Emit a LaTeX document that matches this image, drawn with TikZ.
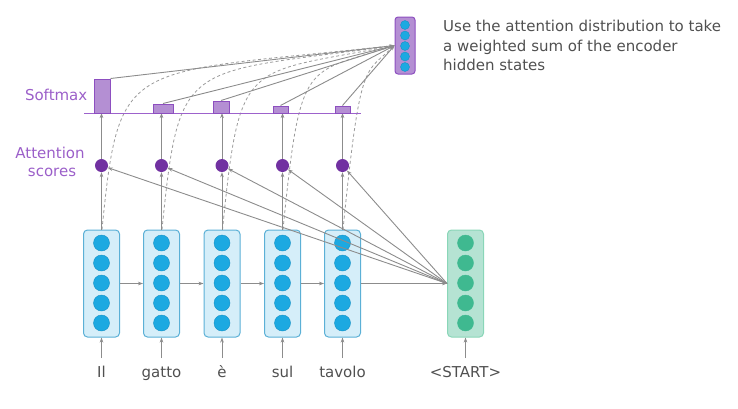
\documentclass[tikz,border=0pt]{standalone}
\usepackage{fontspec}
\setmainfont{DejaVu Sans}
\usetikzlibrary{arrows.meta}
\definecolor{encfill}{HTML}{D5EEF9}
\definecolor{encdraw}{HTML}{5BB0D6}
\definecolor{encdot}{HTML}{1CA9E1}
\definecolor{encdotdraw}{HTML}{1792C6}
\definecolor{decfill}{HTML}{B5E3D3}
\definecolor{decdraw}{HTML}{8AD6B8}
\definecolor{decdot}{HTML}{3FB990}
\definecolor{scoredot}{HTML}{7131A1}
\definecolor{barfill}{HTML}{B48FD3}
\definecolor{bardraw}{HTML}{8D4FC0}
\definecolor{softline}{HTML}{9D62CC}
\definecolor{lblpurple}{HTML}{9B5FC9}
\definecolor{arrgray}{HTML}{8C8C8C}
\definecolor{dashgray}{HTML}{9A9A9A}
\definecolor{txtgray}{HTML}{505050}
\begin{document}
\begin{tikzpicture}[x=1pt,y=-1pt,
  font=\fontsize{15}{19}\selectfont,
  garr/.style={draw=arrgray, line width=0.9pt, -{Stealth[length=5pt,width=3.6pt]}},
  dcurve/.style={draw=dashgray, line width=0.8pt, dash pattern=on 3pt off 2.5pt},
  encbox/.style={draw=encdraw, fill=encfill, line width=1pt, rounded corners=4pt, minimum width=36pt, minimum height=107pt, inner sep=0pt},
  decbox/.style={encbox, draw=decdraw, fill=decfill},
  edot/.style={circle, fill=encdot, draw=encdotdraw, line width=0.4pt, minimum size=16pt, inner sep=0pt},
  ddot/.style={edot, fill=decdot, draw=decdot},
  cdot/.style={edot, minimum size=9pt},
  sdot/.style={circle, fill=scoredot, minimum size=13pt, inner sep=0pt},
  bar/.style={draw=bardraw, fill=barfill, line width=1pt, inner sep=0pt, anchor=south},
  ctxbox/.style={draw=bardraw, fill=barfill, line width=1pt, rounded corners=3pt, minimum width=20pt, minimum height=57pt, inner sep=0pt},
  word/.style={text=txtgray, anchor=base, inner sep=0pt},
  plabel/.style={text=lblpurple, inner sep=0pt},
  note/.style={text=txtgray, anchor=base west, inner sep=0pt}
]
\useasboundingbox (0,0) rectangle (738,408);

% encoder
\foreach \i/\x in {1/101.5,2/161.5,3/222,4/282.5,5/342.5} {
  \node[encbox] (e\i) at (\x,283.5) {};
  \foreach \j/\y in {1/243,2/263,3/283,4/303,5/323}
    \node[edot] (e\i d\j) at (\x,\y) {};
  \node[sdot] (s\i) at (\x,165.5) {};
  \coordinate (t\i) at (\x,113);
  \coordinate (a\i) at (\x,358);
}
% decoder
\node[decbox] (dec) at (465.5,283.5) {};
\foreach \j/\y in {1/243,2/263,3/283,4/303,5/323}
  \node[ddot] (dd\j) at (465.5,\y) {};
\coordinate (a6) at (465.5,358);

% words
\node[word] (w1) at (101.5,377) {Il};
\node[word] (w2) at (161.5,377) {gatto};
\node[word] (w3) at (222,377) {è};
\node[word] (w4) at (282.5,377) {sul};
\node[word] (w5) at (342.5,377) {tavolo};
\node[word] (w6) at (465.5,377) {<START>};
\foreach \i in {1,...,5} \draw[garr] (a\i) -- (e\i);
\draw[garr] (a6) -- (dec);

% recurrent arrows
\draw[garr] (e1.east) -- (e2.west);
\draw[garr] (e2.east) -- (e3.west);
\draw[garr] (e3.east) -- (e4.west);
\draw[garr] (e4.east) -- (e5.west);
\draw[garr] (e5.east) -- (dec.west);

% context vector
\node[ctxbox] (ctx) at (405,45.5) {};
\foreach \j/\y in {1/25,2/35.5,3/46,4/56.5,5/67}
  \node[cdot] (cd\j) at (405,\y) {};

% dashed curves from encoder states to context
\foreach \i/\x in {1/101.5,2/161.5,3/222,4/282.5,5/342.5}
  \draw[dcurve] ([xshift=0.5pt]e\i.north) .. controls (\x+18,55) and (\x+22,75) .. (ctx.west);

% scores
\foreach \i in {1,...,5} {
  \draw[garr] (e\i.north) -- (s\i.south);
  \draw[garr] (s\i.north) -- (t\i);
}
\foreach \i in {1,...,5}
  \draw[garr] (dec.west) -- (s\i);

% softmax line and bars
\coordinate (sl) at (84,113);
\coordinate (sr) at (361,113);
\draw[softline, line width=1pt] (sl) -- (sr);
\node[bar, minimum width=16pt, minimum height=34pt] (b1) at (102,113.5) {};
\node[bar, minimum width=20pt, minimum height=9pt] (b2) at (163,113.5) {};
\node[bar, minimum width=16pt, minimum height=12pt] (b3) at (221,113.5) {};
\node[bar, minimum width=15pt, minimum height=7pt] (b4) at (280.5,113.5) {};
\node[bar, minimum width=15pt, minimum height=7pt] (b5) at (342.5,113.5) {};

\draw[garr] (b1.north east) -- (ctx.west);
\foreach \i in {2,...,5}
  \draw[garr] (b\i.north) -- (ctx.west);

% labels
\node[plabel, anchor=base east] (lsoft) at (87.5,100) {Softmax};
\node[plabel, anchor=base] (latt) at (50,158.3) {Attention};
\node[plabel, anchor=base] (lsco) at (52,176.5) {scores};

\node[note] (n1) at (443,31.7) {Use the attention distribution to take};
\node[note] (n2) at (443,51.2) {a weighted sum of the encoder};
\node[note] (n3) at (443,70.7) {hidden states};
\end{tikzpicture}
\end{document}
